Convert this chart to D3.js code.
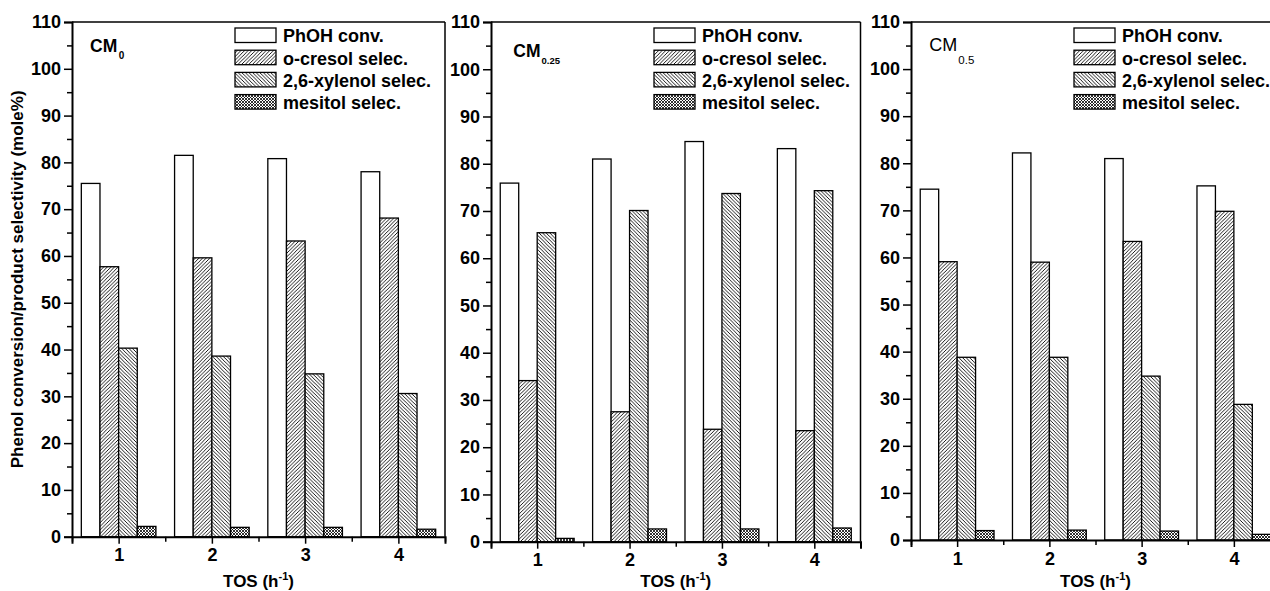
<!DOCTYPE html>
<html>
<head>
<meta charset="utf-8">
<script src="https://cdn.jsdelivr.net/npm/d3@7"></script>
<style>
  html, body { margin: 0; padding: 0; background: #fff; }
  svg { display: block; font-family: "Liberation Sans", Arial, sans-serif; }
</style>
</head>
<body>
<svg id="chart" width="1270" height="591"></svg>
<script>
// ---------------- DATA ----------------
const categories = [1, 2, 3, 4];
const seriesNames = ["PhOH conv.", "o-cresol selec.", "2,6-xylenol selec.", "mesitol selec."];
const yTickValues = [0, 10, 20, 30, 40, 50, 60, 70, 80, 90, 100, 110];

const cm0_phoh    = [75.5, 81.5, 80.8, 78.0];
const cm0_ocresol = [57.7, 59.6, 63.2, 68.1];
const cm0_xylenol = [40.3, 38.6, 34.8, 30.6];
const cm0_mesitol = [2.2, 2.0, 2.0, 1.6];

const cm025_phoh    = [75.9, 81.0, 84.7, 83.2];
const cm025_ocresol = [34.1, 27.5, 23.8, 23.5];
const cm025_xylenol = [65.4, 70.1, 73.7, 74.3];
const cm025_mesitol = [0.7, 2.7, 2.7, 2.9];

const cm05_phoh    = [74.5, 82.2, 81.0, 75.2];
const cm05_ocresol = [59.1, 59.0, 63.4, 69.8];
const cm05_xylenol = [38.8, 38.8, 34.8, 28.8];
const cm05_mesitol = [2.0, 2.1, 1.9, 1.2];

const panelLabels = [
  { main: "CM", sub: "0" },
  { main: "CM", sub: "0.25" },
  { main: "CM", sub: "0.5" }
];

// ---------------- LAYOUT ----------------
const panels = [
  { x0: 72,  x1: 445,   yTop: 22, yBot: 536.7, series: [cm0_phoh, cm0_ocresol, cm0_xylenol, cm0_mesitol],
    label: { x: 90, y: 52.3, size: 17.5, weight: "bold", subDx: 1.5, subDy: 6.5, subSize: 10 } },
  { x0: 491, x1: 860.5, yTop: 22, yBot: 541.7, series: [cm025_phoh, cm025_ocresol, cm025_xylenol, cm025_mesitol],
    label: { x: 513.3, y: 57, size: 17.5, weight: "bold", subDx: 1, subDy: 7, subSize: 9.5 } },
  { x0: 911, x1: 1280,  yTop: 22, yBot: 540, series: [cm05_phoh, cm05_ocresol, cm05_xylenol, cm05_mesitol],
    label: { x: 929.3, y: 51, size: 18, weight: "normal", subDx: 1, subDy: 13, subSize: 11.5 } }
];

const svg = d3.select("#chart");
const defs = svg.append("defs");

// patterns
function makePattern(id, size, paths, sw) {
  const p = defs.append("pattern")
    .attr("id", id).attr("patternUnits", "userSpaceOnUse")
    .attr("width", size).attr("height", size);
  p.append("rect").attr("width", size).attr("height", size).attr("fill", "#fff");
  paths.forEach(d => p.append("path").attr("d", d).attr("stroke", "#000")
    .attr("stroke-width", sw).attr("fill", "none"));
}
makePattern("pat-fwd", 3.6, ["M-0.9,0.9 L0.9,-0.9", "M0,3.6 L3.6,0", "M2.7,4.5 L4.5,2.7"], 0.9);
makePattern("pat-back", 3.6, ["M-0.9,2.7 L0.9,4.5", "M0,0 L3.6,3.6", "M2.7,-0.9 L4.5,0.9"], 0.9);
makePattern("pat-cross", 3, ["M-0.75,0.75 L0.75,-0.75", "M0,3 L3,0", "M2.25,3.75 L3.75,2.25",
                              "M-0.75,2.25 L0.75,3.75", "M0,0 L3,3", "M2.25,-0.75 L3.75,0.75"], 0.8);

const fills = ["#fff", "url(#pat-fwd)", "url(#pat-back)", "url(#pat-cross)"];

panels.forEach((P, pi) => {
  const g = svg.append("g");
  const x = d3.scaleLinear().domain([0.5, 4.5]).range([P.x0, P.x1]);
  const y = d3.scaleLinear().domain([0, 110]).range([P.yBot, P.yTop]);
  const bw = 0.2;

  // bars
  P.series.forEach((vals, si) => {
    g.selectAll(null).data(categories).enter().append("rect")
      .attr("x", (c) => x(c + (si - 2) * bw))
      .attr("width", (c) => x(c + (si - 1) * bw) - x(c + (si - 2) * bw))
      .attr("y", (c, i) => y(vals[i]))
      .attr("height", (c, i) => y(0) - y(vals[i]))
      .attr("fill", fills[si])
      .attr("stroke", "#000").attr("stroke-width", 1.3);
  });

  // top and right frame
  g.append("line").attr("x1", P.x0).attr("x2", P.x1).attr("y1", P.yTop).attr("y2", P.yTop)
    .attr("stroke", "#000").attr("stroke-width", 1.5);
  g.append("line").attr("x1", P.x1).attr("x2", P.x1).attr("y1", P.yTop).attr("y2", P.yBot)
    .attr("stroke", "#000").attr("stroke-width", 1.5);

  // y axis
  const yAxis = d3.axisLeft(y).tickValues(yTickValues).tickSize(8).tickPadding(3);
  const ya = g.append("g").attr("transform", `translate(${P.x0},0)`).call(yAxis);
  ya.select(".domain").attr("stroke-width", 2);
  ya.selectAll(".tick line").attr("stroke-width", 1.5);
  ya.selectAll(".tick text").attr("font-size", 18).attr("font-weight", "bold")
    .attr("font-family", "Liberation Sans, Arial, sans-serif").attr("fill", "#000");
  const yMinor = d3.axisLeft(y).tickValues(yTickValues.slice(0, -1).map(v => v + 5)).tickSize(5).tickFormat("");
  const ym = g.append("g").attr("transform", `translate(${P.x0},0)`).call(yMinor);
  ym.select(".domain").remove();
  ym.selectAll(".tick line").attr("stroke-width", 1.5);

  // x axis
  const xAxis = d3.axisBottom(x).tickValues(categories).tickSize(7).tickPadding(5).tickFormat(d3.format("d"));
  const xa = g.append("g").attr("transform", `translate(0,${P.yBot})`).call(xAxis);
  xa.select(".domain").attr("stroke-width", 2);
  xa.selectAll(".tick line").attr("stroke-width", 1.5);
  xa.selectAll(".tick text").attr("font-size", 18).attr("font-weight", "bold")
    .attr("font-family", "Liberation Sans, Arial, sans-serif").attr("fill", "#000");
  const xMinor = d3.axisBottom(x).tickValues([0.5, 1.5, 2.5, 3.5, 4.5]).tickSize(5).tickFormat("");
  const xm = g.append("g").attr("transform", `translate(0,${P.yBot})`).call(xMinor);
  xm.select(".domain").remove();
  xm.selectAll(".tick line").attr("stroke-width", 1.5);

  // x title
  const xt = g.append("text").attr("x", (P.x0 + Math.min(P.x1, 1280)) / 2).attr("y", 587)
    .attr("text-anchor", "middle").attr("font-size", 17).attr("font-weight", "bold");
  xt.append("tspan").text("TOS (h");
  xt.append("tspan").attr("font-size", 11).attr("dy", -7).text("-1");
  xt.append("tspan").attr("dy", 7).text(")");

  // panel label
  const L = P.label;
  const lt = g.append("text").attr("x", L.x).attr("y", L.y).attr("font-size", L.size).attr("font-weight", L.weight);
  lt.append("tspan").text(panelLabels[pi].main);
  lt.append("tspan").attr("dx", L.subDx).attr("dy", L.subDy).attr("font-size", L.subSize).text(panelLabels[pi].sub);

  // legend
  const lx = P.x0 + 163, ly = 28;
  seriesNames.forEach((name, si) => {
    const yy = ly + si * 22.2;
    g.append("rect").attr("x", lx).attr("y", yy).attr("width", 41).attr("height", 14.5)
      .attr("fill", fills[si]).attr("stroke", "#000").attr("stroke-width", 1.3);
    g.append("text").attr("x", lx + 48).attr("y", yy + 14.3).attr("font-size", 18)
      .attr("font-weight", "bold").text(name);
  });
});

// y axis title
svg.append("text")
  .attr("transform", `translate(23,${(22 + 536.7) / 2}) rotate(-90)`)
  .attr("text-anchor", "middle").attr("font-size", 17).attr("font-weight", "bold")
  .text("Phenol conversion/product selectivity (mole%)");
</script>
</body>
</html>
